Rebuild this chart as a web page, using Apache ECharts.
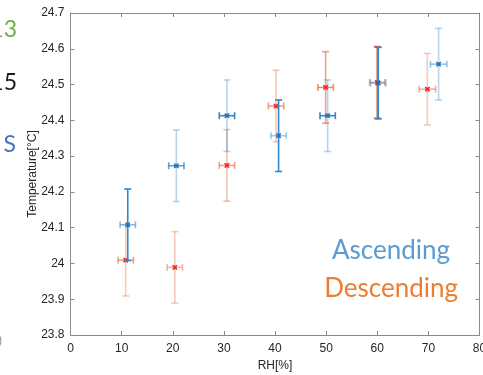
<!DOCTYPE html>
<html>
<head>
<meta charset="utf-8">
<script src="https://cdn.jsdelivr.net/npm/echarts@6/dist/echarts.min.js"></script>
<style>html,body{margin:0;padding:0;background:#fff;}#c{width:483px;height:375px;}</style>
</head>
<body>
<div id="c"></div>
<script>
// ---- data ----
var xTicks = [0, 10, 20, 30, 40, 50, 60, 70, 80];
var yTicks = [23.8, 23.9, 24, 24.1, 24.2, 24.3, 24.4, 24.5, 24.6, 24.7];

var ascRH   = [11.2, 20.7, 30.6, 40.7, 50.3, 60.2, 72.0];
var ascTemp = [24.108, 24.273, 24.413, 24.357, 24.413, 24.504, 24.557];
var ascRHErr   = [1.5, 1.5, 1.5, 1.5, 1.5, 1.5, 1.6];
var ascTempErr = [0.1, 0.1, 0.1, 0.1, 0.1, 0.1, 0.1];

var desRH   = [10.8, 20.4, 30.6, 40.2, 49.9, 60.0, 69.8];
var desTemp = [24.009, 23.989, 24.274, 24.440, 24.492, 24.506, 24.487];
var desRHErr   = [1.5, 1.5, 1.5, 1.5, 1.5, 1.5, 1.6];
var desTempErr = [0.1, 0.1, 0.1, 0.1, 0.1, 0.1, 0.1];

// ---- styles (per-bar opacity, not data) ----
var ascVAlpha = [1, 0.35, 0.35, 1, 0.35, 1, 0.35];
var ascHAlpha = [0.55, 0.8, 1, 0.45, 1, 0.45, 0.5];
var desVAlpha = [0.35, 0.35, 0.4, 0.35, 0.6, 1, 0.35];
var desHAlpha = [0.6, 0.45, 0.6, 0.6, 0.7, 0.6, 0.5];

function build(xs, ys, xe, ye) {
  return xs.map(function (x, i) { return [x, ys[i], xe[i], ye[i]]; });
}

function makeRender(color, markColor, vA, hA) {
  return function (params, api) {
    var i = params.dataIndex;
    var x = api.value(0), y = api.value(1), xe = api.value(2), ye = api.value(3);
    var c = api.coord([x, y]);
    var l = api.coord([x - xe, y]), r = api.coord([x + xe, y]);
    var t = api.coord([x, y + ye]), b = api.coord([x, y - ye]);
    var cap = 3.5, m = 2.2;
    var vs = {stroke: color, lineWidth: 1.6, opacity: vA[i]};
    var hs = {stroke: color, lineWidth: 1.6, opacity: hA[i]};
    return {
      type: 'group',
      children: [
        {type: 'line', shape: {x1: t[0], y1: t[1], x2: b[0], y2: b[1]}, style: vs},
        {type: 'line', shape: {x1: t[0] - cap, y1: t[1], x2: t[0] + cap, y2: t[1]}, style: vs},
        {type: 'line', shape: {x1: b[0] - cap, y1: b[1], x2: b[0] + cap, y2: b[1]}, style: vs},
        {type: 'line', shape: {x1: l[0], y1: l[1], x2: r[0], y2: r[1]}, style: hs},
        {type: 'line', shape: {x1: l[0], y1: l[1] - cap, x2: l[0], y2: l[1] + cap}, style: hs},
        {type: 'line', shape: {x1: r[0], y1: r[1] - cap, x2: r[0], y2: r[1] + cap}, style: hs},
        {type: 'rect', shape: {x: c[0] - m, y: c[1] - m, width: 2 * m, height: 2 * m}, style: {fill: markColor, opacity: 0.45}},
        {type: 'line', shape: {x1: c[0] - m, y1: c[1] - m, x2: c[0] + m, y2: c[1] + m}, style: {stroke: markColor, lineWidth: 1.2}},
        {type: 'line', shape: {x1: c[0] - m, y1: c[1] + m, x2: c[0] + m, y2: c[1] - m}, style: {stroke: markColor, lineWidth: 1.2}}
      ]
    };
  };
}

var axisCol = '#8a8a8a';
var labCol = '#262626';
var fontFam = 'Liberation Sans, Arial, sans-serif';

var chart = echarts.init(document.getElementById('c'));
chart.setOption({
  animation: false,
  backgroundColor: '#fff',
  grid: {left: 70.5, right: 3.5, top: 13, bottom: 40, containLabel: false, outerBoundsMode: 'none'},
  xAxis: [{
    type: 'value', min: xTicks[0], max: xTicks[xTicks.length - 1], interval: 10,
    name: 'RH[%]', nameLocation: 'middle', nameGap: 25, nameMoveOverlap: false,
    nameTextStyle: {color: labCol, fontSize: 12, fontFamily: fontFam},
    axisLine: {show: true, lineStyle: {color: axisCol}},
    axisTick: {show: true, inside: true, length: 4, lineStyle: {color: axisCol}},
    axisLabel: {color: labCol, fontSize: 12, fontFamily: fontFam, margin: 8, hideOverlap: false},
    splitLine: {show: false}
  }, {
    type: 'value', position: 'top', min: 0, max: 80, interval: 10,
    axisLine: {show: true, onZero: false, lineStyle: {color: axisCol}},
    axisTick: {show: true, inside: true, length: 4, lineStyle: {color: axisCol}},
    axisLabel: {show: false}, splitLine: {show: false}
  }],
  yAxis: [{
    type: 'value', min: yTicks[0], max: yTicks[yTicks.length - 1], interval: 0.1,
    name: 'Temperature[°C]', nameLocation: 'middle', nameGap: 32, nameRotate: 90, nameMoveOverlap: false,
    nameTextStyle: {color: labCol, fontSize: 12, fontFamily: fontFam},
    axisLine: {show: true, lineStyle: {color: axisCol}},
    axisTick: {show: true, inside: true, length: 4, lineStyle: {color: axisCol}},
    axisLabel: {color: labCol, fontSize: 12, fontFamily: fontFam, margin: 6,
      formatter: function (v) { return String(Math.round(v * 10) / 10); }},
    splitLine: {show: false}
  }, {
    type: 'value', position: 'right', min: 23.8, max: 24.7, interval: 0.1,
    axisLine: {show: true, onZero: false, lineStyle: {color: axisCol}},
    axisTick: {show: true, inside: true, length: 4, lineStyle: {color: axisCol}},
    axisLabel: {show: false}, splitLine: {show: false}
  }],
  series: [{
    type: 'custom', name: 'Descending', xAxisIndex: 0, yAxisIndex: 0,
    renderItem: makeRender('#e2673a', '#ff1a1a', desVAlpha, desHAlpha),
    data: build(desRH, desTemp, desRHErr, desTempErr), z: 2
  }, {
    type: 'custom', name: 'Ascending', xAxisIndex: 0, yAxisIndex: 0,
    renderItem: makeRender('#2f87cc', '#1f6fb5', ascVAlpha, ascHAlpha),
    data: build(ascRH, ascTemp, ascRHErr, ascTempErr), z: 3
  }],
  graphic: [
    {type: 'text', x: 450, y: 251, style: {text: 'Ascending', fill: '#5b9bd5', font: '26px Lato, sans-serif', align: 'right', verticalAlign: 'middle'}},
    {type: 'text', x: 458, y: 289, style: {text: 'Descending', fill: '#ed7d31', font: '26px Lato, sans-serif', align: 'right', verticalAlign: 'middle'}},
    {type: 'text', x: 17, y: 30, style: {text: '13', fill: '#70ad47', font: '23px Lato, sans-serif', align: 'right', verticalAlign: 'middle'}},
    {type: 'text', x: 17, y: 83, style: {text: '15', fill: '#1a1a1a', font: '23px Lato, sans-serif', align: 'right', verticalAlign: 'middle'}},
    {type: 'text', x: 16, y: 145, style: {text: 'S', fill: '#4472c4', font: '23px Lato, sans-serif', align: 'right', verticalAlign: 'middle'}},
    {type: 'text', x: 2, y: 340, style: {text: ')', fill: '#999', font: '14px Lato, sans-serif', align: 'right', verticalAlign: 'middle'}}
  ]
});
</script>
</body>
</html>
